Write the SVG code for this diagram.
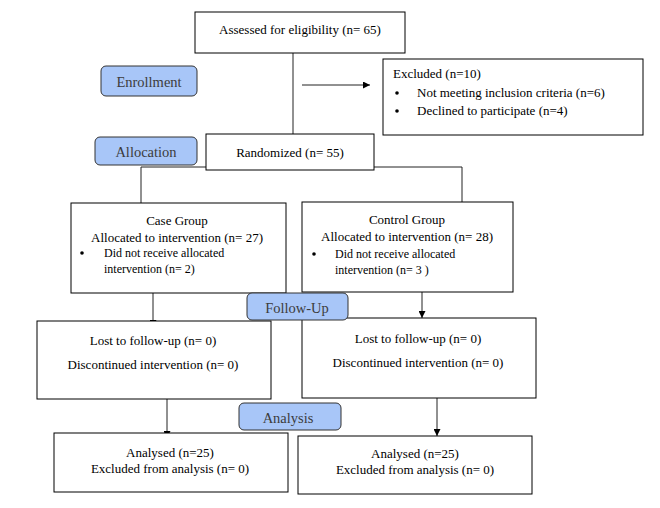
<svg xmlns="http://www.w3.org/2000/svg" width="660" height="508" viewBox="0 0 660 508">
<style>
.box{fill:#fff;stroke:#000;stroke-width:1}
.lab{fill:#a8c6f8;stroke:#333;stroke-width:1}
.t{font-family:"Liberation Serif","Times New Roman",serif;font-size:13px;fill:#000}
.s{font-family:"Liberation Serif","Times New Roman",serif;font-size:12px;fill:#000}
.lt{font-family:"Liberation Serif","Times New Roman",serif;font-size:14.5px;fill:#3c3c3c;text-anchor:middle}
.c{text-anchor:middle}
.ln{fill:none;stroke:#222;stroke-width:1}
</style>
<defs>
<marker id="ah" viewBox="0 0 10 10" refX="10" refY="5" markerWidth="7" markerHeight="7" markerUnits="userSpaceOnUse" orient="auto">
<path d="M0,0 L10,5 L0,10 z" fill="#000"/>
</marker>
</defs>
<rect width="660" height="508" fill="#fff"/>
<g id="connectors">
<line class="ln" x1="293" y1="48" x2="293" y2="134" stroke="#555"/>
<line class="ln" x1="302" y1="85" x2="370" y2="85" marker-end="url(#ah)"/>
<polyline class="ln" points="206,167 141,167 141,203"/>
<polyline class="ln" points="374,167 462,167 462,202"/>
<line class="ln" x1="153" y1="293" x2="153" y2="327" marker-end="url(#ah)"/>
<line class="ln" x1="422" y1="292" x2="422" y2="318" marker-end="url(#ah)"/>
<line class="ln" x1="167" y1="391" x2="167" y2="438" marker-end="url(#ah)"/>
<line class="ln" x1="437" y1="398" x2="437" y2="436" marker-end="url(#ah)"/>
</g>
<g id="assessed">
<rect class="box" x="195" y="12" width="210" height="41"/>
<text class="t c" x="300" y="34">Assessed for eligibility (n= 65)</text>
</g>
<g id="enrollment">
<rect class="lab" x="101" y="66" width="96" height="30" rx="5"/>
<text class="lt" x="149" y="87">Enrollment</text>
</g>
<g id="excluded">
<rect class="box" x="383" y="59" width="260" height="76"/>
<text class="t" x="393" y="78">Excluded (n=10)</text>
<circle cx="397" cy="93" r="1.8" fill="#000"/>
<text class="t" x="417" y="97">Not meeting inclusion criteria (n=6)</text>
<circle cx="397" cy="111" r="1.8" fill="#000"/>
<text class="t" x="417" y="115">Declined to participate (n=4)</text>
</g>
<g id="allocation">
<rect class="lab" x="95" y="137" width="102" height="28" rx="5"/>
<text class="lt" x="146" y="157">Allocation</text>
</g>
<g id="randomized">
<rect class="box" x="206" y="134" width="168" height="36"/>
<text class="t c" x="290" y="157">Randomized (n= 55)</text>
</g>
<g id="case">
<rect class="box" x="71" y="203" width="215" height="90"/>
<text class="t c" x="177" y="225">Case Group</text>
<text class="t c" x="177" y="242">Allocated to intervention (n= 27)</text>
<circle cx="82" cy="253" r="1.8" fill="#000"/>
<text class="s" x="104" y="257">Did not receive allocated</text>
<text class="s" x="104" y="273">intervention (n= 2)</text>
</g>
<g id="control">
<rect class="box" x="302" y="202" width="211" height="90"/>
<text class="t c" x="407" y="224">Control Group</text>
<text class="t c" x="407" y="241">Allocated to intervention (n= 28)</text>
<circle cx="314" cy="254" r="1.8" fill="#000"/>
<text class="s" x="335" y="258">Did not receive allocated</text>
<text class="s" x="335" y="274">intervention (n= 3 )</text>
</g>
<g id="lost-case">
<rect class="box" x="37" y="321" width="234" height="78"/>
<text class="t c" x="153" y="345">Lost to follow-up (n= 0)</text>
<text class="t c" x="153" y="369">Discontinued intervention (n= 0)</text>
</g>
<g id="lost-control">
<rect class="box" x="302" y="318" width="234" height="80"/>
<text class="t c" x="418" y="343">Lost to follow-up (n= 0)</text>
<text class="t c" x="418" y="367">Discontinued intervention (n= 0)</text>
</g>
<g id="followup">
<rect class="lab" x="247" y="293" width="101" height="27" rx="5"/>
<text class="lt" x="297" y="313">Follow-Up</text>
</g>
<g id="analysis">
<rect class="lab" x="239" y="403" width="102" height="27" rx="5"/>
<text class="lt" x="288" y="423">Analysis</text>
</g>
<g id="analysed-case">
<rect class="box" x="54" y="433" width="234" height="59"/>
<text class="t c" x="170" y="457">Analysed (n=25)</text>
<text class="t c" x="170" y="473">Excluded from analysis (n= 0)</text>
</g>
<g id="analysed-control">
<rect class="box" x="298" y="436" width="234" height="58"/>
<text class="t c" x="415" y="458">Analysed (n=25)</text>
<text class="t c" x="415" y="474">Excluded from analysis (n= 0)</text>
</g>
</svg>
